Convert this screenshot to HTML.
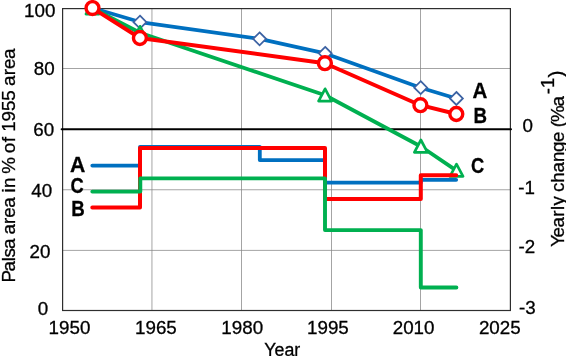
<!DOCTYPE html>
<html lang="en">
<head>
<meta charset="utf-8">
<title>Palsa area chart</title>
<style>
html,body{margin:0;padding:0;background:#fff;}
body{width:566px;height:356px;overflow:hidden;}
svg{display:block;}
text{font-family:"Liberation Sans",sans-serif;fill:#000;}
.t{font-size:18.8px;stroke:#000;stroke-width:0.3px;}
.b{font-size:21.4px;font-weight:bold;stroke:#000;stroke-width:0.3px;}
</style>
</head>
<body>
<svg width="566" height="356" viewBox="0 0 566 356">
<rect width="566" height="356" fill="#fff"/>
<!-- gridlines -->
<g stroke="#858585" stroke-width="0.75" fill="none">
<path d="M62.6 68.5H510.4M62.6 189.75H510.4M62.6 250.4H510.4"/>
<path d="M151.95 8.6V310.5M241.5 8.6V310.5M331.5 8.6V310.5M420.5 8.6V310.5"/>
</g>
<!-- plot frame -->
<rect x="62.6" y="8.6" width="447.8" height="301.9" fill="none" stroke="#2e2e2e" stroke-width="1.2"/>
<!-- zero line -->
<path d="M61.6 129.3H511" stroke="#000" stroke-width="2" stroke-linecap="round" fill="none"/>
<!-- line series A -->
<path fill="none" stroke="#0070c0" stroke-width="3.7" stroke-linejoin="round" stroke-linecap="round" d="M92.5 8.1L140 22.1L259.6 38.9L325.2 53.4L420.7 87.7L456.4 98.5"/>
<g fill="#fff" stroke="#3c62a3" stroke-width="1.8">
<path d="M140 15.7l6.45 6.45l-6.45 6.45l-6.45-6.45z"/>
<path d="M259.6 32.4l6.45 6.45l-6.45 6.45l-6.45-6.45z"/>
<path d="M325.2 46.9l6.45 6.45l-6.45 6.45l-6.45-6.45z"/>
<path d="M420.7 81.2l6.45 6.45l-6.45 6.45l-6.45-6.45z"/>
<path d="M456.4 92.0l6.45 6.45l-6.45 6.45l-6.45-6.45z"/>
</g>
<!-- line series C -->
<path fill="none" stroke="#00b050" stroke-width="3.8" stroke-linejoin="round" stroke-linecap="round" d="M92.5 8.3L140 32.8L325.1 95.3L420.9 146.5L456.5 170.6"/>
<g fill="#fff" stroke="#00b050" stroke-width="2.7" stroke-linejoin="round">
<path d="M92.5 1.80l6.55 12.3h-13.1z"/>
<path d="M140 26.30l6.55 12.3h-13.1z"/>
<path d="M325.1 88.80l6.55 12.3h-13.1z"/>
<path d="M420.9 140.00l6.55 12.3h-13.1z"/>
<path d="M456.5 164.10l6.55 12.3h-13.1z"/>
</g>
<!-- line series B -->
<path fill="none" stroke="#ff0000" stroke-width="3.9" stroke-linejoin="round" stroke-linecap="round" d="M92.5 8.1L139.9 38.0L324.9 63.2L420.4 105.2L456.3 114.0"/>
<g fill="#fff" stroke="#ff0000" stroke-width="3.4">
<circle cx="92.5" cy="8.1" r="6.45"/>
<circle cx="139.9" cy="38.0" r="6.45"/>
<circle cx="324.9" cy="63.2" r="6.45"/>
<circle cx="420.4" cy="105.2" r="6.45"/>
<circle cx="456.3" cy="114.0" r="6.45"/>
</g>
<!-- step series -->
<g fill="none" stroke-width="3.8" stroke-linecap="round" stroke-linejoin="round">
<path stroke="#0070c0" d="M92.3 165.6H140V147H259.8V160.1H325V182.6H420.8V179.8H456.2"/>
<path stroke="#ff0000" stroke-width="4" d="M92.3 207.6H140V147.9H325V199H420.8V175.2H456.2"/>
<path stroke="#00b050" stroke-width="3.9" d="M92.3 191.6H140.3V178.4H325V230.1H420.8V287.5H456.4"/>
</g>
<!-- left axis labels -->
<g class="t" text-anchor="end">
<text x="55.4" y="16.8">100</text>
<text x="54.7" y="75.4">80</text>
<text x="54.2" y="135.6">60</text>
<text x="52.2" y="196.9">40</text>
<text x="50.4" y="257.7">20</text>
<text x="48.2" y="314.8">0</text>
</g>
<!-- right axis labels -->
<g class="t" text-anchor="end">
<text x="533" y="132">0</text>
<text x="535" y="194.3">-1</text>
<text x="535.2" y="253">-2</text>
<text x="535.6" y="313.6">-3</text>
</g>
<!-- x axis labels -->
<g class="t" text-anchor="middle">
<text x="69.5" y="333.8">1950</text>
<text x="155.9" y="333.8">1965</text>
<text x="242.2" y="333.8">1980</text>
<text x="327.9" y="333.8">1995</text>
<text x="413.6" y="333.8">2010</text>
<text x="499.8" y="333.8">2025</text>
</g>
<text class="t" x="264.3" y="355.8" textLength="36" lengthAdjust="spacingAndGlyphs">Year</text>
<!-- axis titles -->
<text class="t" transform="translate(14.8 281.4) rotate(-90)" x="-1.0 9.8 20.2 24.0 32.4 42.2 46.8 57.4 63.7 73.7 83.6 88.8 93.4 103.7 107.6 123.0 128.1 139.2 144.7 149.6 160.0 170.3 180.7 190.9 195.5 206.1 212.4 222.4">Palsa area in % of 1955 area</text>
<text class="t" transform="translate(563.6 245.8) rotate(-90)"><tspan x="-1.3 8.4 18.4 29.0 35.9 40.3 49.4 53.9 63.1 73.4 83.7 93.9 103.7 113.7 118.6 123.8 139.2">Yearly change (%a</tspan><tspan x="151.5 157.8" dy="-9.6" font-size="18.4">-1</tspan><tspan x="168.2" dy="8.8" font-size="21">)</tspan></text>
<!-- series labels -->
<g class="b">
<text x="70" y="171.7" textLength="15.3" lengthAdjust="spacingAndGlyphs">A</text>
<text x="70.6" y="192.6" textLength="13.2" lengthAdjust="spacingAndGlyphs">C</text>
<text x="71.2" y="216.3" textLength="13.5" lengthAdjust="spacingAndGlyphs">B</text>
<text x="472.6" y="98.1" textLength="14.8" lengthAdjust="spacingAndGlyphs">A</text>
<text x="473.4" y="122.5" textLength="13.5" lengthAdjust="spacingAndGlyphs">B</text>
<text x="470.9" y="173" textLength="13.2" lengthAdjust="spacingAndGlyphs">C</text>
</g>
</svg>
</body>
</html>
